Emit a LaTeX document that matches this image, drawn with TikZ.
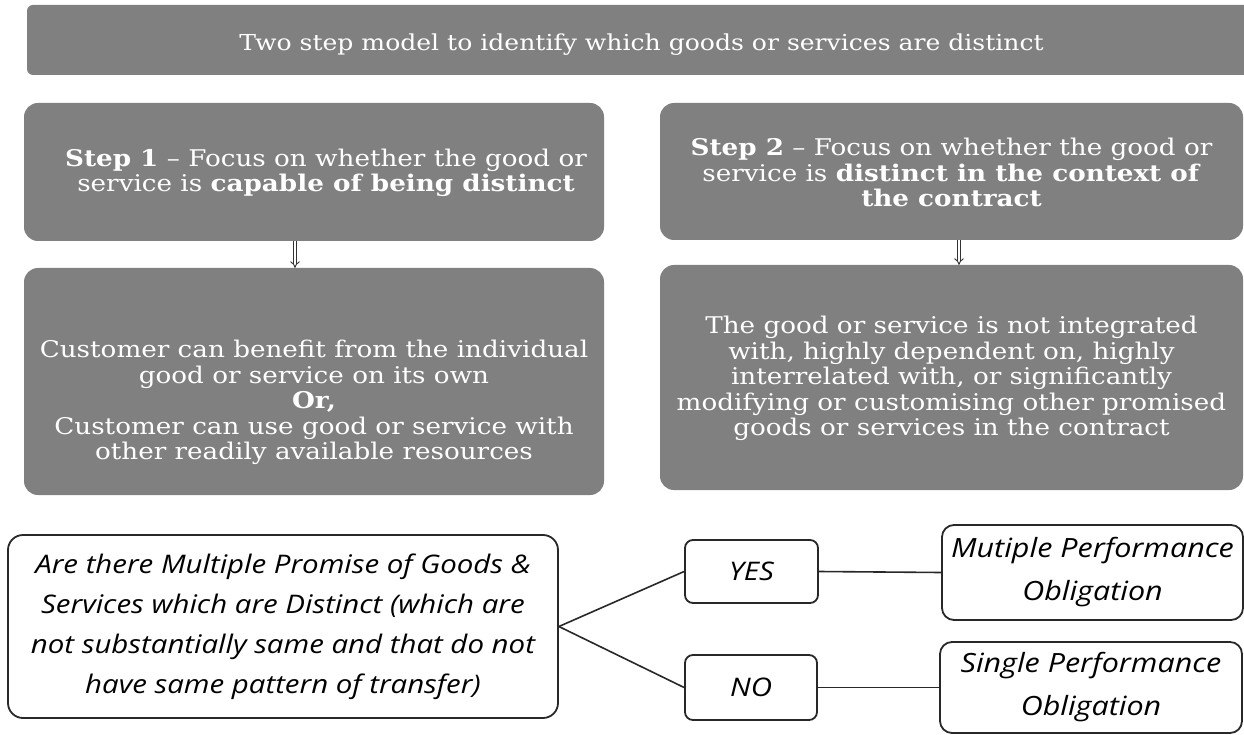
\documentclass[tikz,border=0pt]{standalone}
\usepackage{fontspec}
\setmainfont{DejaVu Serif}[FakeStretch=1.14]
\newfontfamily\handfont{Open Sans}[FakeStretch=1.15]
\usetikzlibrary{arrows.meta}
\definecolor{panelgray}{RGB}{128,128,128}
\definecolor{inkline}{RGB}{40,40,40}
\begin{document}
\begin{tikzpicture}[x=1pt,y=-1pt,
  panel/.style={fill=panelgray, rounded corners=14pt, inner sep=0pt},
  paneltext/.style={text=white, align=center, inner sep=0pt,
    font=\fontsize{23}{25.5}\selectfont},
  handbox/.style={draw=inkline, line width=1.8pt, rounded corners=12pt, fill=white,
    align=center, font=\handfont\itshape\fontsize{25.6}{40}\selectfont, inner sep=0pt},
  link/.style={draw=inkline, line width=1.6pt},
  dblarrow/.style={draw=black!80, double=white, double distance=2.4pt, line width=0.9pt,
    -{Implies}}]
\useasboundingbox (0,0) rectangle (1244,735);
\fill[white] (0,0) rectangle (1244,735);
\clip (0,0) rectangle (1244,735);

% heading band
\node[panel, rounded corners=6pt, minimum width=1229pt, minimum height=70pt] (title) at (641.5,40) {};
\node[paneltext, font=\fontsize{22}{26}\selectfont] (titletext) at ([yshift=-5pt]title.center)
  {Two step model to identify which goods or services are distinct};

% the two steps
\node[panel, minimum width=580pt, minimum height=138pt] (step1) at (314,172) {};
\node[paneltext] (step1text) at ([xshift=12pt,yshift=-1pt]step1.center)
  {\textbf{Step 1} -- Focus on whether the good or\\
   service is \textbf{capable of being distinct}};
\node[panel, minimum width=583pt, minimum height=137pt] (step2) at (951.5,171.5) {};
\node[paneltext] (step2text) at ([yshift=-1pt]step2.center)
  {\textbf{Step 2} -- Focus on whether the good or\\
   service is \textbf{distinct in the context of}\\
   \textbf{the contract}};

% what each step requires
\node[panel, minimum width=580pt, minimum height=227pt] (res1) at (314,381.5) {};
\node[paneltext] (res1text) at ([yshift=-21pt]res1.center)
  {Customer can benefit from the individual\\
   good or service on its own\\
   \textbf{Or,}\\
   Customer can use good or service with\\
   other readily available resources};
\node[panel, minimum width=583pt, minimum height=225pt] (res2) at (951.5,377.5) {};
\node[paneltext] (res2text) at ([yshift=-1pt]res2.center)
  {The good or service is not integrated\\
   with, highly dependent on, highly\\
   interrelated with, or significantly\\
   modifying or customising other promised\\
   goods or services in the contract};

\draw[dblarrow] ([xshift=-19pt]step1.south) -- ([xshift=-19pt]res1.north);
\draw[dblarrow] ([xshift=7.5pt]step2.south) -- ([xshift=7.5pt]res2.north);

% decision
\node[handbox, rounded corners=15pt, minimum width=550pt, minimum height=183pt] (quest) at (283,626.5)
  {Are there Multiple Promise of Goods \&\\
   Services which are Distinct (which are\\
   not substantially same and that do not\\
   have same pattern of transfer)};
\node[handbox, rounded corners=8pt, minimum width=133pt, minimum height=63pt] (yes) at (751.5,571.5) {YES};
\node[handbox, rounded corners=8pt, minimum width=132pt, minimum height=65pt] (no) at (751,687.5) {NO};
\node[handbox, font=\handfont\itshape\fontsize{26.5}{43}\selectfont,
  minimum width=301pt, minimum height=95pt] (multi) at (1092.5,572.5)
  {Mutiple Performance\\ Obligation};
\node[handbox, font=\handfont\itshape\fontsize{26.5}{43}\selectfont,
  minimum width=302pt, minimum height=91pt] (single) at (1091,687.5)
  {Single Performance\\ Obligation};

\draw[link] (quest.east) -- (yes.west);
\draw[link] (quest.east) -- (no.west);
\draw[link] (yes.east) -- (multi.west);
\draw[link] (no.east) -- (single.west);
\end{tikzpicture}
\end{document}
